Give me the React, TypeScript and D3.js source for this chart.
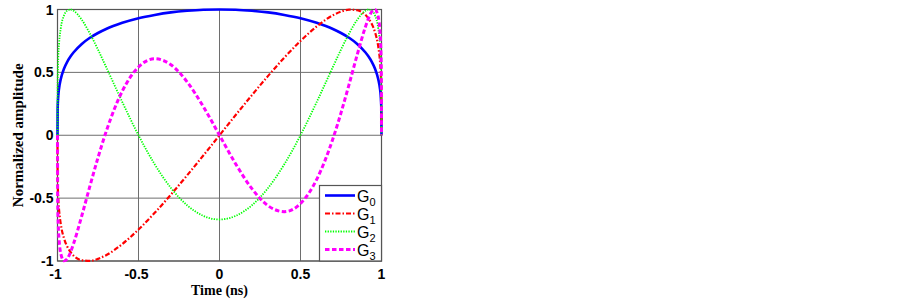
import React, { useRef, useEffect } from "react";
import * as d3 from "d3";

// sample times (ns) and normalized amplitudes
const times = [-1, -0.999, -0.995, -0.99, -0.98, -0.96, -0.94, -0.92, -0.9, -0.85, -0.8, -0.75, -0.7, -0.6, -0.5, -0.4, -0.3, -0.2, -0.1, 0,
  0.1, 0.2, 0.3, 0.4, 0.5, 0.6, 0.7, 0.75, 0.8, 0.85, 0.9, 0.92, 0.94, 0.96, 0.98, 0.99, 0.995, 0.999, 1];

const g0 = [0, 0.212, 0.316, 0.376, 0.446, 0.529, 0.584, 0.626, 0.660, 0.726, 0.775, 0.813, 0.845, 0.894, 0.931, 0.957, 0.977, 0.990, 0.998, 1,
  0.998, 0.990, 0.977, 0.957, 0.931, 0.894, 0.845, 0.813, 0.775, 0.726, 0.660, 0.626, 0.584, 0.529, 0.446, 0.376, 0.316, 0.212, 0];

const g1 = [0, -0.341, -0.507, -0.599, -0.705, -0.819, -0.885, -0.928, -0.958, -0.994, -0.999, -0.983, -0.954, -0.865, -0.750, -0.617, -0.472, -0.319, -0.161, 0,
  0.161, 0.319, 0.472, 0.617, 0.750, 0.865, 0.954, 0.983, 0.999, 0.994, 0.958, 0.928, 0.885, 0.819, 0.705, 0.599, 0.507, 0.341, 0];

const g2 = [0, 0.424, 0.626, 0.734, 0.849, 0.952, 0.991, 1.0, 0.990, 0.918, 0.809, 0.681, 0.543, 0.264, 0, -0.231, -0.419, -0.557, -0.641, -0.670,
  -0.641, -0.557, -0.419, -0.231, 0, 0.264, 0.543, 0.681, 0.809, 0.918, 0.990, 1.0, 0.991, 0.952, 0.849, 0.734, 0.626, 0.424, 0];

const g3 = [0, -0.491, -0.719, -0.833, -0.939, -0.999, -0.983, -0.931, -0.859, -0.640, -0.405, -0.178, 0.028, 0.351, 0.543, 0.608, 0.561, 0.425, 0.228, 0,
  -0.228, -0.425, -0.561, -0.608, -0.543, -0.351, -0.028, 0.178, 0.405, 0.640, 0.859, 0.931, 0.983, 0.999, 0.939, 0.833, 0.719, 0.491, 0];

const xTicks = [-1, -0.5, 0, 0.5, 1];
const yTicks = [-1, -0.5, 0, 0.5, 1];
const seriesNames = ["0", "1", "2", "3"];

export default function App() {
  const svgRef = useRef<SVGSVGElement | null>(null);

  useEffect(() => {
    const svg = d3.select(svgRef.current);
    svg.selectAll("*").remove();

    const left = 57.5, right = 381.5, top = 9.5, bottom = 261;
    const x = d3.scaleLinear().domain([-1, 1]).range([left, right]);
    const y = d3.scaleLinear().domain([-1, 1]).range([bottom, top]);

    svg.append("rect").attr("width", 902).attr("height", 300).attr("fill", "#fff");

    // grid
    const grid = svg.append("g").attr("stroke", "#6e6e6e").attr("stroke-width", 1);
    xTicks.forEach((t) => {
      grid.append("line").attr("x1", x(t)).attr("x2", x(t)).attr("y1", top).attr("y2", bottom);
    });
    yTicks.forEach((t) => {
      grid.append("line").attr("x1", left).attr("x2", right).attr("y1", y(t)).attr("y2", y(t));
    });
    svg.append("rect")
      .attr("x", left).attr("y", top)
      .attr("width", right - left).attr("height", bottom - top)
      .attr("fill", "none").attr("stroke", "#555").attr("stroke-width", 1.2);

    // tick labels
    svg.append("g")
      .selectAll("text")
      .data(yTicks)
      .join("text")
      .attr("x", left - 4)
      .attr("y", (d) => y(d) + 5)
      .attr("text-anchor", "end")
      .attr("font-family", "Liberation Sans, Arial, sans-serif")
      .attr("font-weight", "bold")
      .attr("font-size", 14)
      .text((d) => String(d));

    svg.append("g")
      .selectAll("text")
      .data(xTicks)
      .join("text")
      .attr("x", (d) => x(d) - (d < 0 ? 2 : 0))
      .attr("y", bottom + 18)
      .attr("text-anchor", "middle")
      .attr("font-family", "Liberation Sans, Arial, sans-serif")
      .attr("font-weight", "bold")
      .attr("font-size", 14)
      .text((d) => String(d));

    // axis titles
    svg.append("text")
      .attr("x", (left + right) / 2)
      .attr("y", 295)
      .attr("text-anchor", "middle")
      .attr("font-family", "Liberation Serif, Times New Roman, serif")
      .attr("font-weight", "bold")
      .attr("font-size", 14)
      .text("Time (ns)");

    svg.append("text")
      .attr("transform", `translate(23,${(top + bottom) / 2}) rotate(-90)`)
      .attr("text-anchor", "middle")
      .attr("font-family", "Liberation Serif, Times New Roman, serif")
      .attr("font-weight", "bold")
      .attr("font-size", 15)
      .text("Normalized amplitude");

    const styles = [
      { data: g0, color: "#0000ff", width: 2.6, dash: null },
      { data: g1, color: "#ff0000", width: 2.2, dash: "5,2,1.5,2" },
      { data: g2, color: "#00ff00", width: 1.8, dash: "1.3,1.3" },
      { data: g3, color: "#ff00ff", width: 3, dash: "4.5,2.5" },
    ];

    const line = d3.line<number>()
      .x((_, i) => x(times[i]))
      .y((d) => y(d))
      .curve(d3.curveMonotoneX);

    styles.forEach((s) => {
      const p = svg.append("path")
        .datum(s.data)
        .attr("d", line)
        .attr("fill", "none")
        .attr("stroke", s.color)
        .attr("stroke-width", s.width);
      if (s.dash) p.attr("stroke-dasharray", s.dash);
    });

    // legend
    const lg = svg.append("g");
    lg.append("rect")
      .attr("x", 319.5).attr("y", 185.5)
      .attr("width", right - 319.5).attr("height", bottom - 185.5)
      .attr("fill", "#fff").attr("stroke", "#555").attr("stroke-width", 1.2);
    styles.forEach((s, i) => {
      const ly = 195.5 + i * 18;
      const l = lg.append("line")
        .attr("x1", 325).attr("x2", 355)
        .attr("y1", ly).attr("y2", ly)
        .attr("stroke", s.color).attr("stroke-width", s.width);
      if (s.dash) l.attr("stroke-dasharray", s.dash);
      const t = lg.append("text")
        .attr("x", 357).attr("y", ly + 6)
        .attr("font-family", "Liberation Sans, Arial, sans-serif")
        .attr("font-size", 16);
      t.append("tspan").text("G");
      t.append("tspan").attr("dy", 4).attr("font-size", 11).text(seriesNames[i]);
    });
  }, []);

  return (
    <div>
      <svg ref={svgRef} width={902} height={300} style={{ position: "absolute", left: 0, top: 0 }} />
    </div>
  );
}
